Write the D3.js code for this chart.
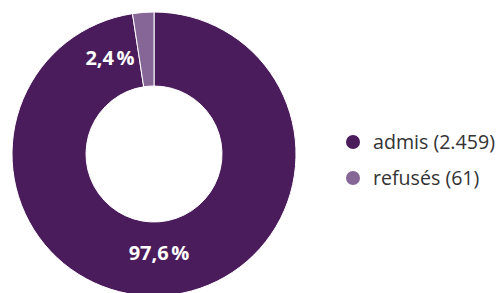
<!DOCTYPE html>
<html>
<head>
<meta charset="utf-8">
<script src="https://cdn.jsdelivr.net/npm/d3@7"></script>
<style>
  body { margin: 0; background: #fff; }
  svg { display: block; }
</style>
</head>
<body>
<svg width="503" height="293"></svg>
<script>
var categories = ["admis", "refusés"];
var counts = [2459, 61];
var shares = [97.6, 2.4];
var colors = ["#4a1c5b", "#866697"];

var svg = d3.select("svg");
var cx = 154, cy = 154, outer = 142, inner = 68;

var pie = d3.pie().sort(null).value(function(d) { return d; });
var arcs = pie(counts);
var arc = d3.arc().innerRadius(inner).outerRadius(outer);

var g = svg.append("g").attr("transform", "translate(" + cx + "," + cy + ")");

g.selectAll("path")
  .data(arcs)
  .enter().append("path")
    .attr("d", arc)
    .attr("fill", function(d, i) { return colors[i]; })
    .attr("stroke", "#fff")
    .attr("stroke-width", 1);

// label spots, picked by hand to sit like the original
var fmt = function(v) { return String(v).replace(".", ",") + "\u202f%"; };

g.append("text")
  .attr("x", 5)
  .attr("y", 99)
  .attr("text-anchor", "middle")
  .attr("dy", "0.35em")
  .attr("fill", "#fff")
  .style("font", "bold 20px 'Open Sans', sans-serif")
  .text(fmt(shares[0]));

g.append("text")
  .attr("x", -44)
  .attr("y", -96)
  .attr("text-anchor", "middle")
  .attr("dy", "0.35em")
  .attr("fill", "#fff")
  .style("font", "bold 20px 'Open Sans', sans-serif")
  .text(fmt(shares[1]));

var legend = svg.append("g").attr("transform", "translate(353,142)");
var item = legend.selectAll("g")
  .data(categories)
  .enter().append("g")
    .attr("transform", function(d, i) { return "translate(0," + i * 36 + ")"; });

item.append("circle")
  .attr("r", 7)
  .attr("fill", function(d, i) { return colors[i]; });

item.append("text")
  .attr("x", 20)
  .attr("dy", "0.35em")
  .attr("fill", "#333")
  .style("font", "19.6px 'Open Sans', sans-serif")
  .text(function(d, i) { return d + " (" + d3.format(",")(counts[i]).replace(/,/g, ".") + ")"; });
</script>
</body>
</html>
